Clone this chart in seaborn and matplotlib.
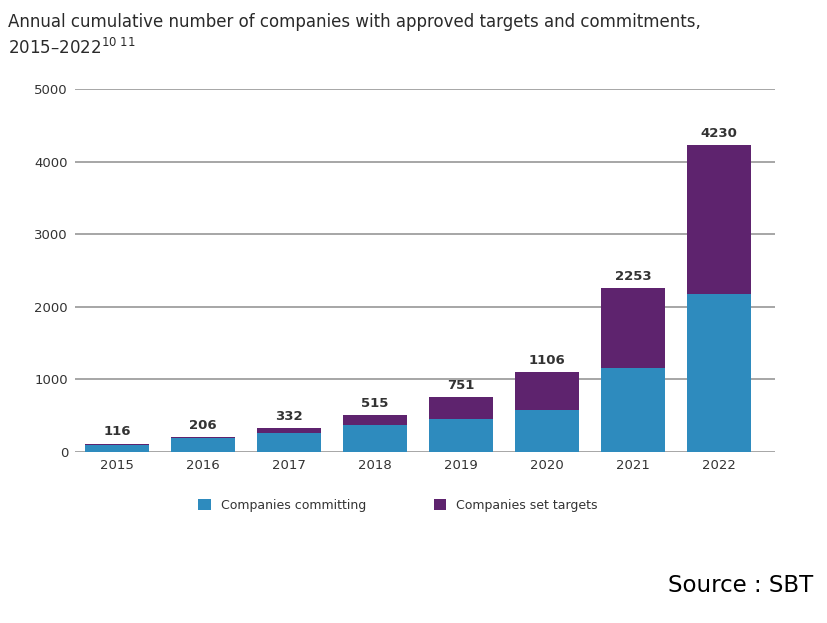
import matplotlib
matplotlib.use("Agg")
import matplotlib.pyplot as plt
from matplotlib.patches import Patch
import seaborn as sns
import pandas as pd

years = ["2015", "2016", "2017", "2018", "2019", "2020", "2021", "2022"]
totals = [116, 206, 332, 515, 751, 1106, 2253, 4230]
committing = [100, 190, 268, 370, 457, 580, 1156, 2172]
set_targets = [t - c for t, c in zip(totals, committing)]
y_ticks = [0, 1000, 2000, 3000, 4000, 5000]

title = "Annual cumulative number of companies with approved targets and commitments,\n2015\u20132022$^{10\\ 11}$"
legend_labels = ["Companies committing", "Companies set targets"]
source_text = "Source : SBT"

blue = "#2E8BBE"
purple = "#5E236E"
grid_col = "#A6A6A6"
text_col = "#333333"

sns.set_theme(style="white")
plt.rcParams["font.family"] = ["DejaVu Sans"]

df = pd.DataFrame({"year": years, "total": totals, "committing": committing, "set_targets": set_targets})

fig = plt.figure(figsize=(8.28, 6.23), dpi=100)
ax = fig.add_axes([75 / 828, 1 - 452 / 623, 700 / 828, (452 - 89) / 623])

sns.barplot(data=df, x="year", y="total", color=purple, saturation=1, width=0.745,
            linewidth=0, edgecolor="none", ax=ax, zorder=3)
sns.barplot(data=df, x="year", y="committing", color=blue, saturation=1, width=0.745,
            linewidth=0, edgecolor="none", ax=ax, zorder=4)

ax.set_ylim(0, 5000)
ax.set_xlim(-0.49, 7.65)
ax.set_yticks(y_ticks)
ax.set_yticklabels([str(v) for v in y_ticks], fontsize=9.5, color=text_col)
ax.tick_params(axis="x", labelsize=9.5, colors=text_col, length=0, pad=5)
ax.tick_params(axis="y", length=0, pad=5)
ax.yaxis.grid(True, color=grid_col, linewidth=1.4, zorder=0)
ax.set_axisbelow(True)
for s in ax.spines.values():
    s.set_visible(False)
ax.set_xlabel("")
ax.set_ylabel("")

for i, t in enumerate(totals):
    ax.text(i, t + 70, str(t), ha="center", va="bottom", fontsize=9.5, fontweight="bold", color=text_col, zorder=5)

fig.text(8 / 828, 1 - 13 / 623, title, ha="left", va="top", fontsize=12, color="#2a2a2a", linespacing=1.45)

handles = [Patch(facecolor=blue, edgecolor="none"), Patch(facecolor=purple, edgecolor="none")]
fig.legend(handles, legend_labels, loc="center left", bbox_to_anchor=(187 / 828, 1 - 505 / 623),
           ncol=2, frameon=False, fontsize=9, handlelength=1.0, handleheight=1.0,
           columnspacing=5.4, handletextpad=0.8, labelcolor=text_col)

fig.text(813 / 828, 1 - 586 / 623, source_text, ha="right", va="center", fontsize=16.5, color="black")

fig.savefig("out.png", dpi=100, facecolor="white")
